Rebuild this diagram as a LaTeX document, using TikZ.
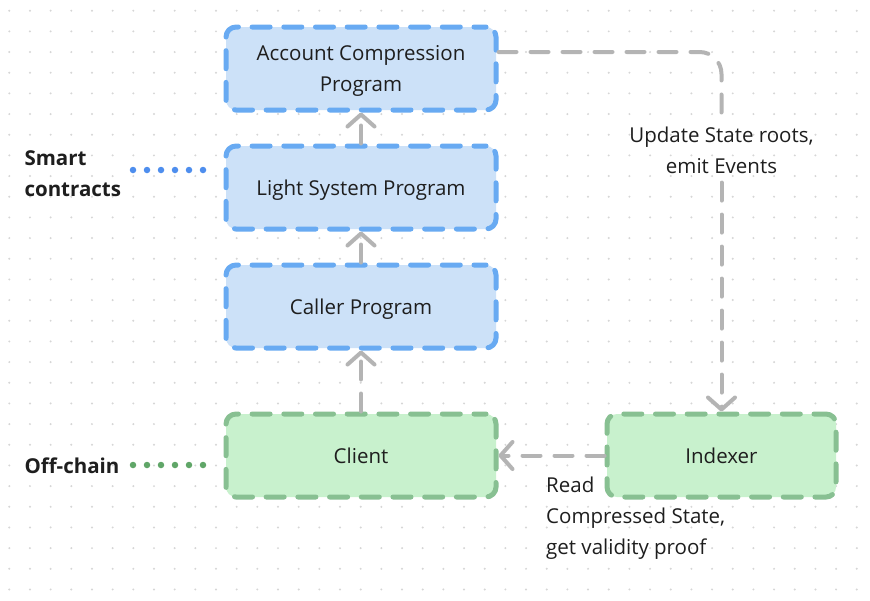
\documentclass[tikz,border=0pt]{standalone}
\usepackage{fontspec}
\setmainfont{Open Sans}
\usetikzlibrary{arrows.meta}

\definecolor{ink}{RGB}{30,30,30}
\definecolor{griddot}{RGB}{214,214,214}
\definecolor{chainfill}{RGB}{204,225,248}
\definecolor{chainline}{RGB}{104,170,242}
\definecolor{offfill}{RGB}{200,241,205}
\definecolor{offline}{RGB}{136,192,146}
\definecolor{flowgray}{RGB}{180,180,180}
\definecolor{chaindot}{RGB}{78,142,238}
\definecolor{offdot}{RGB}{96,166,104}

\begin{document}
\begin{tikzpicture}[x = 1pt, y = -1pt,
	box/.style = {rounded corners = 10pt, line width = 5pt, line cap = round,
		dash pattern = on 18pt off 13.7pt, dash phase = 6pt, minimum width = 270pt, minimum height = 83pt,
		align = center, text = ink, text depth = 0pt, font = \fontsize{20.5}{31}\selectfont},
	chainbox/.style = {box, draw = chainline, fill = chainfill},
	offbox/.style = {box, draw = offline, fill = offfill},
	flow/.style = {draw = flowgray, line width = 4pt, line cap = round, dash pattern = on 18pt off 14pt,
		-{Straight Barb[length = 12pt, width = 27pt, line cap = round, line join = round]}},
	note/.style = {text = ink, font = \fontsize{20.5}{31}\selectfont},
	side/.style = {text = ink, align = left, font = \fontsize{20.5}{31}\selectfont\bfseries},
	dots/.style = {line width = 6.5pt, line cap = round, dash pattern = on 0pt off 14pt}]
	 \useasboundingbox (0, 0) rectangle (870, 600);
	 \fill[white] (0, 0) rectangle (870, 600);
	 \foreach \i in {0, ..., 41}
	 \foreach \j in {0, ..., 28}
	 \fill[griddot] (9.3 + 20.67 * \i, 10.7 + 20.67 * \j) circle (1.1pt);
	 
	 \node[chainbox] (acp) at (361, 68.5) {Account Compression\\Program};
	 \node[chainbox] (lsp) at (361, 187.5) {Light System Program};
	 \node[chainbox] (caller) at (361, 306.5) {Caller Program};
	 \node[offbox] (client) at (361, 455.5) {Client};
	 \node[offbox, minimum width = 229pt] (indexer) at (721.5, 455.5) {Indexer};
	 
	 \node[note, align = center, inner sep = 9pt] (update) at (721.5, 150) {Update State roots,\\emit Events};
	 \node[note, align = left, anchor = north west, inner sep = 0pt] (read) at (546, 477) {Read\\Compressed State,\\get validity proof};
	 
	 \draw[flow] (lsp) -- (acp);
	 \draw[flow] (caller) -- (lsp);
	 \draw[flow] (client) -- (caller);
	 \draw[flow] (indexer) -- (client);
	 \draw[flow, -, rounded corners = 22pt] ([yshift = 16.5pt]acp.east) -| (update.north);
	 \draw[flow] (update.south) -- (indexer.north);
	 
	 \node[side, anchor = west] (smart) at (21, 174) {Smart\\contracts};
	 \node[side, anchor = west] (offchain) at (21, 465.5) {Off-chain};
	 \coordinate (smartdots) at (133, 170);
	 \coordinate (offdots) at (133, 465);
	 \draw[dots, chaindot] (smartdots) -- ++(70.5, 0);
	 \draw[dots, offdot] (offdots) -- ++(70.5, 0);
\end{tikzpicture}
\end{document}
